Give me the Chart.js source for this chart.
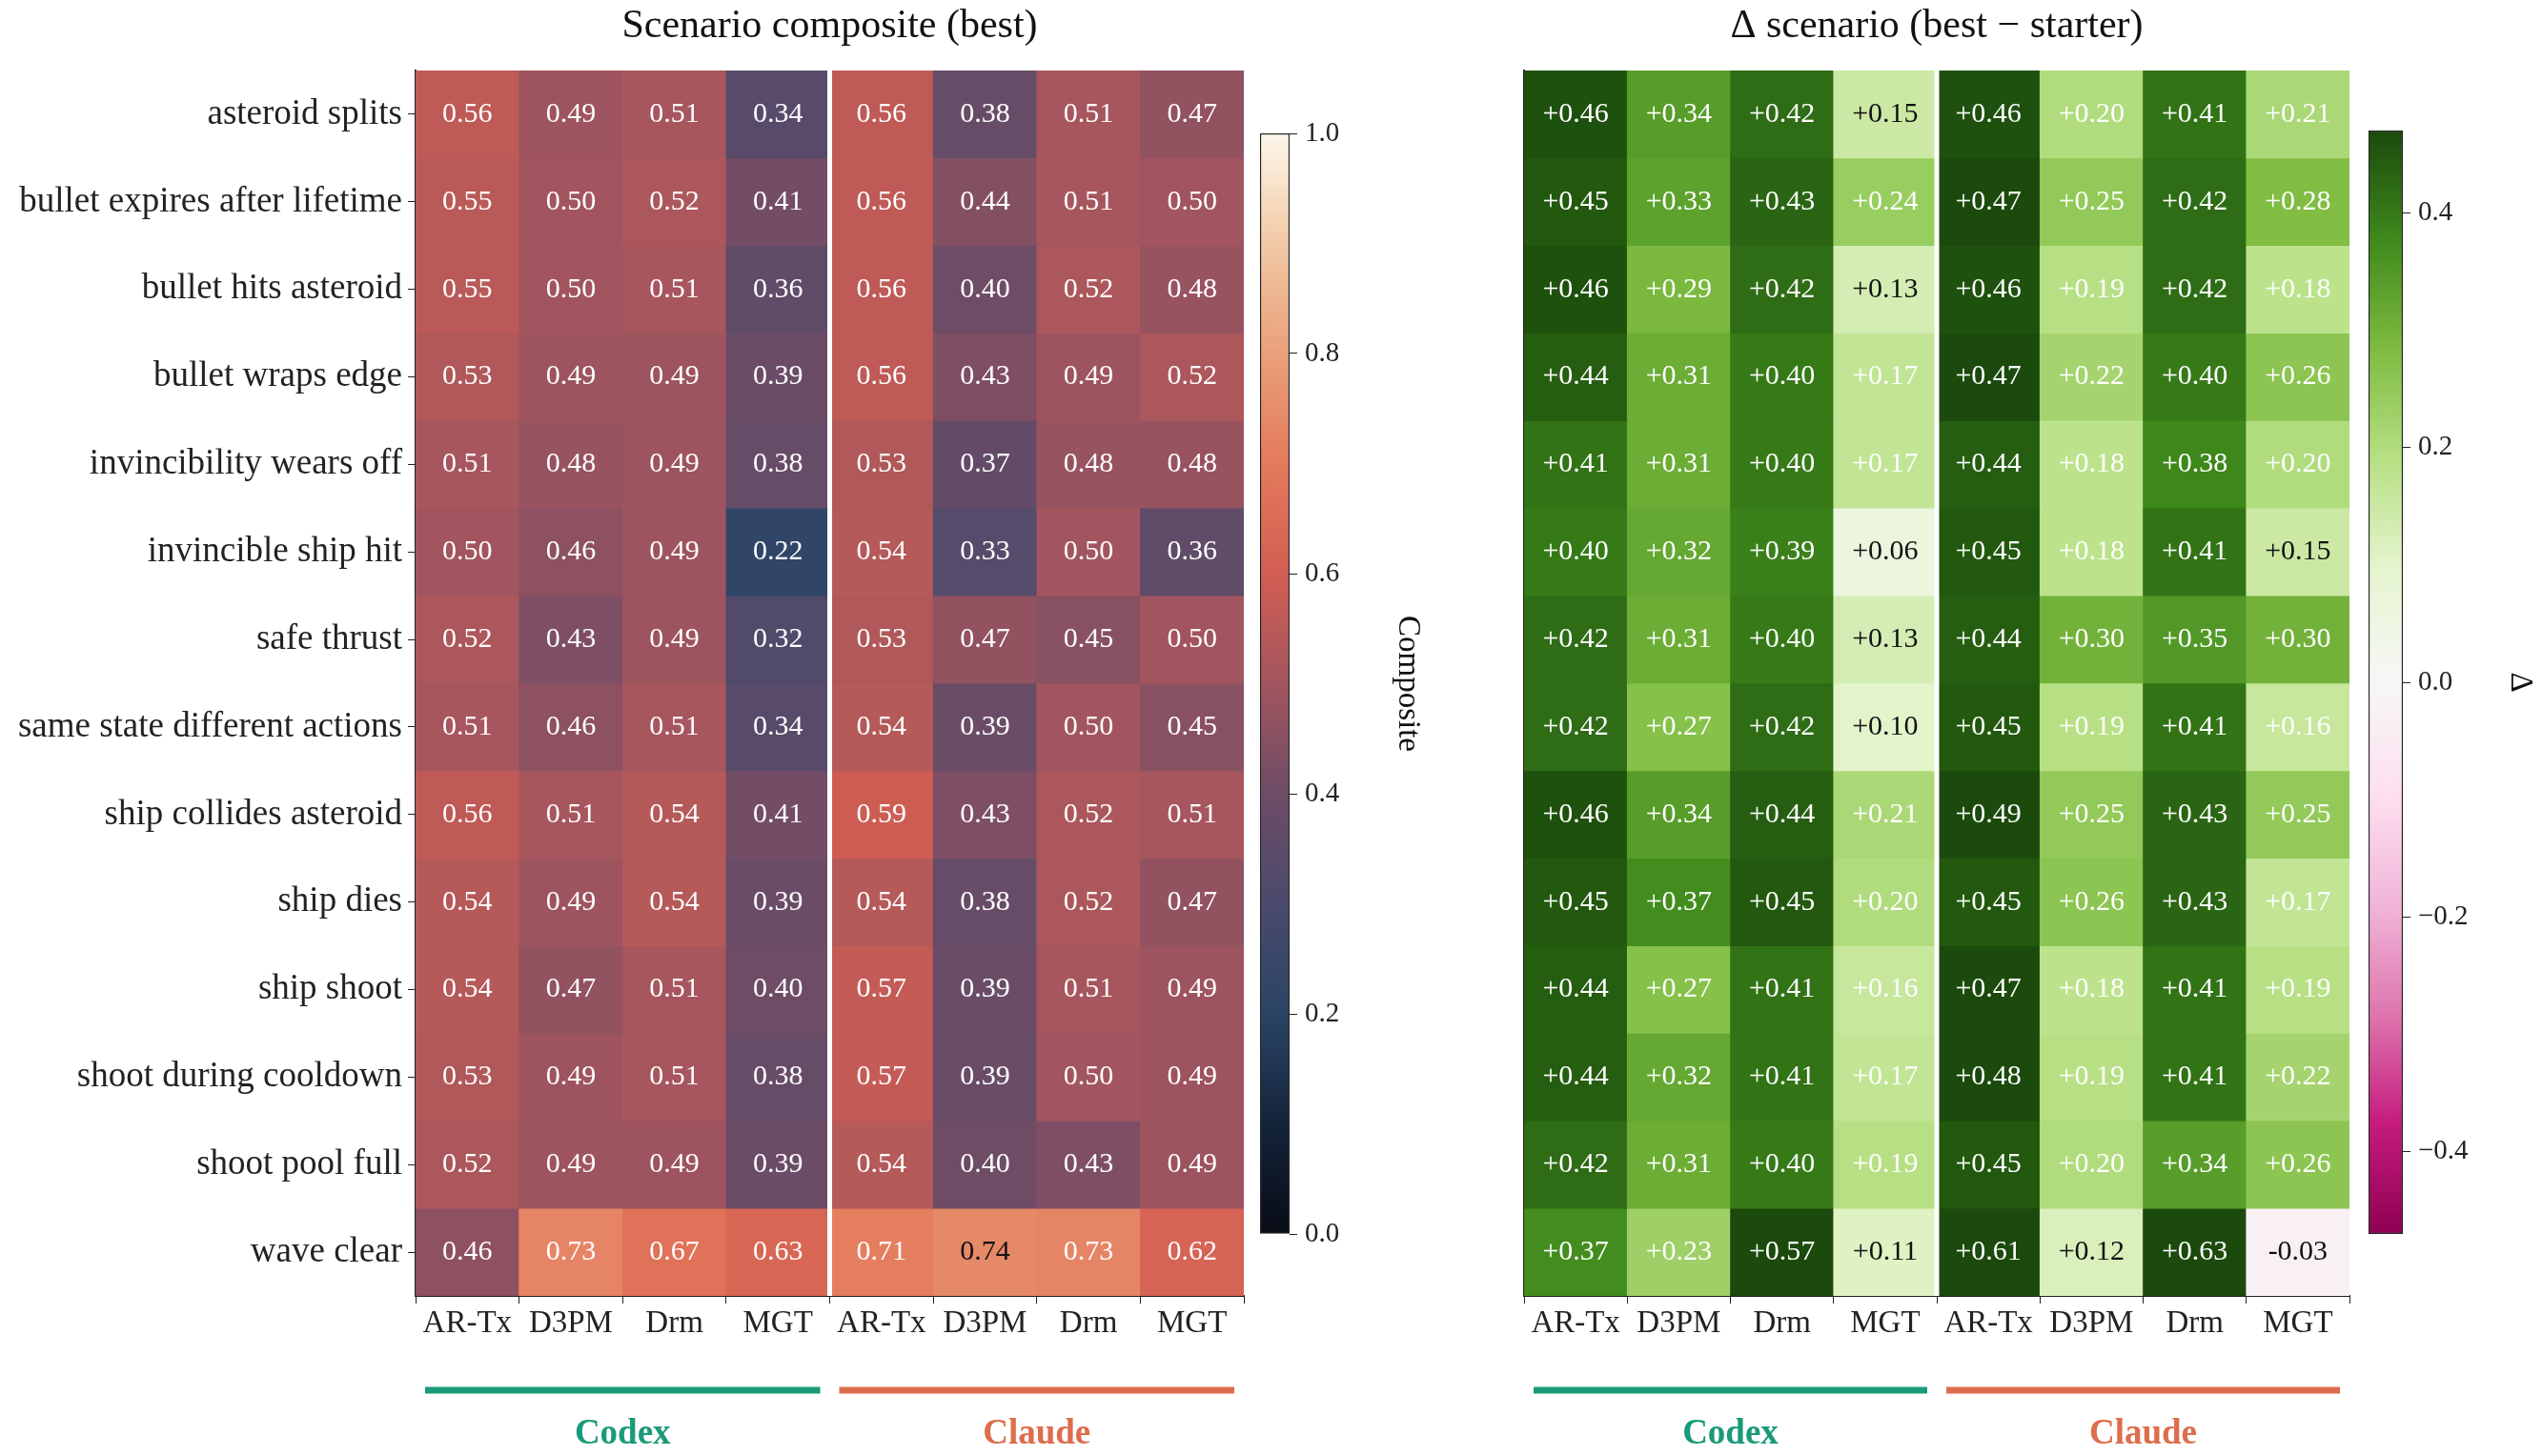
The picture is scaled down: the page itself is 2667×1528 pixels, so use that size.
<!DOCTYPE html>
<html><head><meta charset="utf-8">
<script src="https://cdn.jsdelivr.net/npm/chart.js@4/dist/chart.umd.min.js"></script>
<style>body{margin:0;background:#fff;width:2667px;height:1528px;position:relative;overflow:hidden}canvas{position:absolute;top:0}</style>
</head><body>
<canvas id="c1" style="left:0" width="1320" height="1528"></canvas>
<canvas id="cb1" style="left:1310px" width="190" height="1528"></canvas>
<canvas id="c2" style="left:1500px" width="980" height="1528"></canvas>
<canvas id="cb2" style="left:2470px" width="197" height="1528"></canvas>
<script>
const rows=["asteroid splits","bullet expires after lifetime","bullet hits asteroid","bullet wraps edge","invincibility wears off","invincible ship hit","safe thrust","same state different actions","ship collides asteroid","ship dies","ship shoot","shoot during cooldown","shoot pool full","wave clear"];
const cols=["AR-Tx","D3PM","Drm","MGT","AR-Tx","D3PM","Drm","MGT"];
const groups=["Codex","Claude"];
const composite=[
[.56,.49,.51,.34,.56,.38,.51,.47],
[.55,.50,.52,.41,.56,.44,.51,.50],
[.55,.50,.51,.36,.56,.40,.52,.48],
[.53,.49,.49,.39,.56,.43,.49,.52],
[.51,.48,.49,.38,.53,.37,.48,.48],
[.50,.46,.49,.22,.54,.33,.50,.36],
[.52,.43,.49,.32,.53,.47,.45,.50],
[.51,.46,.51,.34,.54,.39,.50,.45],
[.56,.51,.54,.41,.59,.43,.52,.51],
[.54,.49,.54,.39,.54,.38,.52,.47],
[.54,.47,.51,.40,.57,.39,.51,.49],
[.53,.49,.51,.38,.57,.39,.50,.49],
[.52,.49,.49,.39,.54,.40,.43,.49],
[.46,.73,.67,.63,.71,.74,.73,.62]];
const delta=[
[.46,.34,.42,.15,.46,.20,.41,.21],
[.45,.33,.43,.24,.47,.25,.42,.28],
[.46,.29,.42,.13,.46,.19,.42,.18],
[.44,.31,.40,.17,.47,.22,.40,.26],
[.41,.31,.40,.17,.44,.18,.38,.20],
[.40,.32,.39,.06,.45,.18,.41,.15],
[.42,.31,.40,.13,.44,.30,.35,.30],
[.42,.27,.42,.10,.45,.19,.41,.16],
[.46,.34,.44,.21,.49,.25,.43,.25],
[.45,.37,.45,.20,.45,.26,.43,.17],
[.44,.27,.41,.16,.47,.18,.41,.19],
[.44,.32,.41,.17,.48,.19,.41,.22],
[.42,.31,.40,.19,.45,.20,.34,.26],
[.37,.23,.57,.11,.61,.12,.63,-.03]];
const compTicks=[0,0.2,0.4,0.6,0.8,1.0];
const deltaTicks=[-0.4,-0.2,0,0.2,0.4];

const FONT="'Liberation Serif','Times New Roman',serif";
const leftMap=["#080c16","#142339","#2a4466","#4a4a6c","#6e4c66","#a2555e","#d25e52","#e47a5c","#e9a07a","#f2c9a5","#fdf7ea"];
const piyg=["#8e0152","#c51b7d","#de77ae","#f1b6da","#fde0ef","#f7f7f7","#e6f5d0","#b8e186","#7fbc41","#3f8a1c","#1b4a0c"];
function hex(h){return [1,3,5].map(i=>parseInt(h.substr(i,2),16));}
function cmap(stops,t){t=Math.max(0,Math.min(1,t));const n=stops.length-1;const i=Math.min(n-1,Math.floor(t*n));const f=t*n-i;const a=hex(stops[i]),b=hex(stops[i+1]);return `rgb(${a.map((v,k)=>Math.round(v+(b[k]-v)*f)).join(',')})`;}
const DMAX=0.47;

function heat(id,data,colorFn,fmt,textDark,showRows,yWidth,title){
  const datasets=data.map((r,i)=>({data:r.map(()=>1),backgroundColor:r.map(v=>colorFn(v)),vals:r,borderWidth:0,barPercentage:1,categoryPercentage:1}));
  const plug={id:'lbl',afterDatasetsDraw(ch){
    const c=ch.ctx,xs=ch.scales.x,a=ch.chartArea;
    c.save();c.font=`30px ${FONT}`;c.textAlign='center';c.textBaseline='middle';
    ch.data.datasets.forEach((ds,i)=>{ch.getDatasetMeta(i).data.forEach((el,j)=>{const v=ds.vals[j];c.fillStyle=textDark(v)?'#111':'#fff';c.fillText(fmt(v),el.x,(el.y+el.base)/2);});});
    const xm=(xs.getPixelForValue(3)+xs.getPixelForValue(4))/2;
    c.strokeStyle='#fff';c.lineWidth=5;c.beginPath();c.moveTo(xm,a.top);c.lineTo(xm,a.bottom);c.stroke();
    c.font=`42px ${FONT}`;c.fillStyle='#111';c.fillText(title,(a.left+a.right)/2,28);
    const gc=['#1a9a78','#dd6d4c'];const w=xs.getPixelForValue(1)-xs.getPixelForValue(0);
    groups.forEach((g,k)=>{const x0=xs.getPixelForValue(k*4)-w/2+10,x1=xs.getPixelForValue(k*4+3)+w/2-10;
      c.strokeStyle=gc[k];c.lineWidth=7;c.beginPath();c.moveTo(x0,1459);c.lineTo(x1,1459);c.stroke();
      c.fillStyle=gc[k];c.font=`bold 37px ${FONT}`;c.fillText(g,(x0+x1)/2,1505);});
    c.restore();}};
  return new Chart(document.getElementById(id),{type:'bar',data:{labels:cols,datasets},plugins:[plug],
    options:{responsive:false,animation:false,events:[],layout:{padding:{top:74,bottom:108,right:15,left:0}},
      plugins:{legend:{display:false},tooltip:{enabled:false}},
      scales:{
        x:{stacked:true,afterFit:s=>{s.height=60},grid:{drawOnChartArea:false,drawTicks:true,tickLength:8,color:'#222'},border:{display:true,color:'#222',width:2},ticks:{color:'#222',font:{size:33,family:FONT},maxRotation:0,autoSkip:false,padding:2}},
        y:{stacked:true,reverse:true,min:0,max:rows.length,afterFit:s=>{s.width=yWidth},
          afterBuildTicks:s=>{s.ticks=rows.map((r,i)=>({value:i+0.5}))},
          grid:{drawOnChartArea:false,drawTicks:showRows,tickLength:8,color:'#222'},border:{display:true,color:'#222',width:2},
          ticks:{display:showRows,color:'#222',font:{size:37,family:FONT},padding:6,callback:(v)=>rows[Math.floor(v)]}}
      }}});
}
heat('c1',composite,v=>cmap(leftMap,v),v=>v.toFixed(2),v=>v>0.735,true,436,'Scenario composite (best)');
heat('c2',delta,v=>cmap(piyg,(v+DMAX)/(2*DMAX)),v=>(v>=0?'+':'-')+Math.abs(v).toFixed(2),v=>Math.abs(v)<0.155,false,99,'Δ scenario (best − starter)');

function cbar(id,stops,min,max,ticks,label,padL,barW,canvasW,fmt){
  return new Chart(document.getElementById(id),{type:'bar',data:{labels:[''],datasets:[{data:[[min,max]],barPercentage:1,categoryPercentage:1,borderWidth:1.5,borderColor:'#222',borderSkipped:false,
    backgroundColor:(ctx)=>{const a=ctx.chart.chartArea;if(!a)return '#888';const g=ctx.chart.ctx.createLinearGradient(0,a.bottom,0,a.top);stops.forEach((s,i)=>g.addColorStop(i/(stops.length-1),s));return g;}}]},
    options:{responsive:false,animation:false,events:[],layout:{padding:{top:0,bottom:0,left:padL,right:0}},
      plugins:{legend:{display:false},tooltip:{enabled:false}},
      scales:{x:{display:false},
        y:{position:'right',min,max,afterFit:s=>{s.width=canvasW-padL-barW},afterBuildTicks:s=>{s.ticks=ticks.map(v=>({value:v}))},
          grid:{drawOnChartArea:false,drawTicks:true,tickLength:8,color:'#222'},border:{display:false},
          ticks:{color:'#222',font:{size:29,family:FONT},padding:8,callback:fmt},
          title:{display:true,text:label,color:'#111',font:{size:33,family:FONT},padding:{top:4,bottom:0}}}}}},
  );
}
const c1=cbar('cb1',leftMap,0,1,compTicks,'Composite',12,31,190,v=>v.toFixed(1));
const c2=cbar('cb2',piyg,-DMAX,DMAX,deltaTicks,'Δ',15,36,197,v=>(v<0?'−':'')+Math.abs(v).toFixed(1));
c1.options.layout.padding={top:140,bottom:233,left:12,right:0};c1.update();
c2.options.layout.padding={top:137,bottom:233,left:15,right:0};c2.update();
</script>
</body></html>
